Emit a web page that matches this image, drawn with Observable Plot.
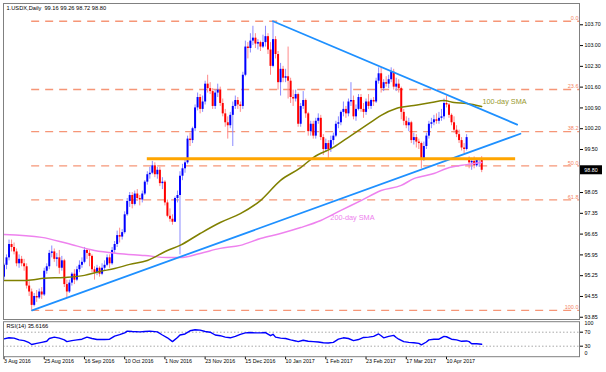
<!DOCTYPE html>
<html><head><meta charset="utf-8">
<script src="https://cdn.jsdelivr.net/npm/d3@7"></script>
<script src="https://cdn.jsdelivr.net/npm/@observablehq/plot@0.6"></script>
<style>
html,body{margin:0;padding:0;background:#fff;}
#wrap{position:relative;width:606px;height:372px;overflow:hidden;font-family:"Liberation Sans",Arial,sans-serif;}
#main{position:absolute;left:0;top:0;}
#rsi{position:absolute;left:0;top:318px;}
</style></head><body><div id="wrap"><div id="main"></div><div id="rsi"></div></div>
<script>
const symbol = "1.USDX,Daily";
const opens = [95.20,95.60,95.85,96.30,96.20,96.05,95.65,95.80,95.65,95.55,
94.90,94.70,94.25,94.55,94.50,94.70,94.60,95.40,95.55,96.00,
96.05,95.80,95.85,95.50,95.75,94.95,94.70,95.00,95.30,95.10,
95.45,95.60,95.70,96.10,96.00,95.90,95.45,95.35,95.50,95.30,
95.50,95.60,95.85,95.65,96.10,96.30,96.60,96.55,96.70,97.30,
97.75,97.95,97.65,98.00,97.85,97.80,98.00,98.40,98.65,98.70,
98.95,98.65,98.80,98.35,98.40,97.70,97.25,97.15,97.05,97.85,
97.95,98.60,98.85,99.05,99.85,99.80,100.20,100.90,101.25,100.85,
101.10,101.70,101.55,101.45,100.95,101.40,101.50,101.05,100.70,100.40,
100.30,100.65,100.95,101.15,101.00,100.95,102.00,102.95,102.90,103.15,
103.25,103.05,103.10,102.95,103.10,103.30,102.85,102.30,103.20,102.70,
101.75,102.20,101.90,101.95,101.80,101.25,101.20,101.35,100.35,100.95,
101.15,100.70,100.10,100.35,99.95,100.45,100.55,99.90,99.50,99.70,
99.50,99.80,99.95,100.35,100.40,100.75,100.85,100.70,101.10,101.15,
100.60,100.85,101.25,100.85,100.75,101.10,100.95,101.15,101.10,101.80,
102.05,101.55,101.75,101.70,101.85,102.10,101.60,101.70,101.55,100.75,
100.45,100.30,100.40,99.80,99.90,99.75,99.70,99.20,99.60,99.95,
100.35,100.40,100.50,100.45,100.55,100.60,101.05,101.00,100.65,100.40,
100.15,100.00,99.80,99.55,99.50,99.20,99.05,99.10,98.95,99.15,99.16];
const highs = [95.65,95.95,96.45,96.45,96.35,96.15,95.95,95.90,95.80,95.65,
95.05,94.80,94.65,94.75,94.80,94.85,95.50,95.65,96.10,96.25,
96.15,96.00,96.10,95.90,95.80,95.10,95.10,95.35,95.45,95.55,
95.75,95.85,96.20,96.15,96.10,95.95,95.55,95.60,95.55,95.65,
95.75,95.95,95.95,96.20,96.40,96.75,96.85,96.80,97.40,97.85,
98.05,98.05,98.10,98.15,97.95,98.10,98.45,98.75,98.90,99.10,
99.05,98.90,98.90,98.55,98.45,97.80,97.50,97.30,97.90,98.10,
98.75,99.00,99.20,99.95,100.05,100.25,101.00,101.40,101.35,101.30,
101.80,102.00,101.75,101.55,101.50,101.70,101.60,101.20,100.85,100.60,
100.75,101.10,101.30,101.25,101.10,102.10,103.15,103.10,103.40,103.65,
103.40,103.20,103.15,103.35,103.65,103.40,103.10,103.82,103.30,102.80,
102.40,102.30,102.20,102.95,101.90,101.50,101.50,101.40,101.05,101.45,
101.20,100.75,100.45,100.45,100.55,100.70,100.65,100.00,99.85,99.80,
99.95,100.05,100.45,100.60,100.80,101.10,100.95,101.20,101.75,101.30,
101.00,101.35,101.35,101.05,101.20,101.35,101.20,101.25,101.90,102.25,
102.25,101.85,101.95,102.00,102.25,102.20,101.90,101.85,101.60,100.85,
100.60,100.55,100.45,100.05,100.00,99.85,99.75,99.75,100.05,100.45,
100.55,100.65,100.70,100.75,100.85,101.20,101.30,101.05,100.70,100.60,
100.30,100.15,99.90,99.70,100.00,99.25,99.20,99.25,99.20,99.20,99.26];
const lows = [95.10,95.45,95.75,96.05,95.95,95.55,95.50,95.55,95.40,94.80,
94.55,94.08,94.20,94.35,94.45,94.45,94.55,95.30,95.45,95.85,
95.70,95.55,95.30,95.40,94.85,94.50,94.65,94.90,94.95,95.05,
95.35,95.50,95.65,95.80,95.55,95.35,95.10,95.25,95.20,95.25,
95.40,95.55,95.50,95.60,96.00,96.20,96.35,96.45,96.65,97.25,
97.55,97.50,97.60,97.75,97.60,97.70,97.95,98.30,98.50,98.65,
98.55,98.50,98.25,98.15,97.60,97.20,97.05,96.95,97.05,97.70,
95.95,98.45,98.70,99.00,99.60,99.70,100.10,100.80,100.70,100.75,
101.00,101.40,101.35,100.85,100.85,101.25,100.95,100.60,100.25,99.85,
100.20,99.60,100.85,100.85,100.75,100.85,101.95,102.55,102.75,103.00,
102.90,102.85,102.80,102.90,102.95,102.70,102.00,102.25,102.55,101.50,
101.30,101.75,101.75,101.20,101.05,100.95,101.10,100.25,100.25,100.85,
100.55,99.95,99.95,99.85,99.85,100.35,99.80,99.30,99.40,99.20,
99.40,99.65,99.90,100.20,100.30,100.60,100.55,100.60,100.95,100.50,
100.45,100.80,100.75,100.55,100.65,100.85,100.85,100.95,101.05,101.70,
101.40,101.45,101.60,101.55,101.75,101.50,101.45,101.40,100.50,100.30,
100.20,100.10,99.70,99.65,99.55,99.50,98.85,99.10,99.50,99.85,
100.20,100.30,100.35,100.35,100.45,100.50,100.90,100.55,100.30,100.05,
99.90,99.70,99.45,99.35,99.45,98.85,98.80,98.85,98.90,98.90,98.72];
const closes = [95.60,95.85,96.30,96.20,96.05,95.65,95.80,95.65,95.55,94.90,
94.70,94.25,94.55,94.50,94.70,94.60,95.40,95.55,96.00,96.05,
95.80,95.85,95.50,95.75,94.95,94.70,95.00,95.30,95.10,95.45,
95.60,95.70,96.10,96.00,95.90,95.45,95.35,95.50,95.30,95.50,
95.60,95.85,95.65,96.10,96.30,96.60,96.55,96.70,97.30,97.75,
97.95,97.65,98.00,97.85,97.80,98.00,98.40,98.65,98.70,98.95,
98.65,98.80,98.35,98.40,97.70,97.25,97.15,97.05,97.85,97.95,
98.60,98.85,99.05,99.85,99.80,100.20,100.90,101.25,100.85,101.10,
101.70,101.55,101.45,100.95,101.40,101.50,101.05,100.70,100.40,100.30,
100.65,100.95,101.15,101.00,100.95,102.00,102.95,102.90,103.15,103.25,
103.05,103.10,102.95,103.10,103.30,102.85,102.30,103.20,102.70,101.75,
102.20,101.90,101.95,101.80,101.25,101.20,101.35,100.35,100.95,101.15,
100.70,100.10,100.35,99.95,100.45,100.55,99.90,99.50,99.70,99.50,
99.80,99.95,100.35,100.40,100.75,100.85,100.70,101.10,101.15,100.60,
100.85,101.25,100.85,100.75,101.10,100.95,101.15,101.10,101.80,102.05,
101.55,101.75,101.70,101.85,102.10,101.60,101.70,101.55,100.75,100.45,
100.30,100.40,99.80,99.90,99.75,99.70,99.20,99.60,99.95,100.35,
100.40,100.50,100.45,100.55,100.60,101.05,101.00,100.65,100.40,100.15,
100.00,99.80,99.55,99.50,99.90,99.05,99.10,98.95,99.15,99.15,98.80];

const dateIdx = [0,16,32,48,64,80,96,112,128,144,160,176];
const dateLabels = ["3 Aug 2016","25 Aug 2016","16 Sep 2016","10 Oct 2016","1 Nov 2016","23 Nov 2016","15 Dec 2016","10 Jan 2017","1 Feb 2017","23 Feb 2017","17 Mar 2017","10 Apr 2017"];
const yTicks = [103.70,103.00,102.30,101.60,100.90,100.20,99.50,98.05,97.35,96.65,95.95,95.25,94.55,93.85];

const fibLabels = ["0.0","23.6","38.2","50.0","61.8","100.0"];
const fibPrices = [103.82,101.52,100.10,98.95,97.80,94.08];
const fibStartIdx = 11;

const sma100Idx = [0,9,16,24,32,38,44,50,57,65,70,78,86,94,102,110,118,123,131,138,147,150,156,163,170,175,179,184,190];
const sma100Val = [95.09,95.09,95.16,95.19,95.26,95.39,95.49,95.63,95.76,96.10,96.27,96.67,97.04,97.34,97.78,98.46,98.89,99.23,99.57,99.97,100.48,100.65,100.88,100.98,101.08,101.15,101.08,101.05,100.95];
const sma200Idx = [0,15,25,36,45,56,65,70,78,86,94,102,110,118,126,134,142,150,158,163,171,176,184,190];
const sma200Val = [96.64,96.54,96.34,96.10,96.00,95.93,95.86,95.86,96.00,96.17,96.27,96.50,96.67,96.87,97.11,97.45,97.78,98.12,98.29,98.52,98.69,98.86,98.99,99.06];

const trendUpperIdx = [107,204.1], trendUpperVal = [103.82,100.34];
const trendLowerIdx = [11.2,205.4], trendLowerVal = [94.08,100.03];
const supportLevel = 99.19, supportIdx = [57,203.5];

const rsiIdx = [0,2,4,6,8,10,11,13,15,17,18,20,22,24,25,27,29,31,33,35,37,40,42,44,46,48,49,51,54,56,58,61,63,65,67,69,70,72,74,76,78,80,82,84,86,88,90,92,94,96,98,100,102,104,106,107,108,110,112,114,116,117,119,121,123,125,127,129,131,133,135,137,139,141,143,145,147,149,150,151,153,155,156,157,159,161,163,165,166,168,169,171,173,175,176,178,180,182,184,185,186,188,190];
const rsiVal = [51,54,53,48,46,40,35,38,41,44,52,56,53,48,43,46,48,50,56,52,49,49,50,59,63,68,73,72,71,72,73,71,62,54,43,55,62,65,74,77,76,72,70,62,60,56,54,58,64,68,69,68,68,69,60,64,56,53,52,48,45,43,47,44,43,42,40,39,41,50,54,52,46,49,55,56,58,65,60,54,58,61,55,50,43,41,40,38,34,42,48,50,50,58,57,50,48,44,45,43,37,37,35.6];
const rsiLast = "35.6166";
const rsiLevels = [70,30];

// ---- build ----
const W = 606;
const xDomain = [-0.2, 228.9];
const yDomain = [93.774, 104.417];
const font = "Liberation Sans, Arial, sans-serif";
const n = closes.length;
const bars = closes.map((c,i)=>({i, o:opens[i], h:highs[i], l:lows[i], c}));
const up = bars.filter(d=>d.c>=d.o), dn = bars.filter(d=>d.c<d.o);
const fibs = fibLabels.map((t,k)=>({label:t, price:fibPrices[k], x1:fibStartIdx, x2:xDomain[1]}));
const sma100 = sma100Idx.map((i,k)=>({i, v:sma100Val[k]}));
const sma200 = sma200Idx.map((i,k)=>({i, v:sma200Val[k]}));
const trend = [
  ...trendUpperIdx.map((i,k)=>({id:"u", i, v:trendUpperVal[k]})),
  ...trendLowerIdx.map((i,k)=>({id:"l", i, v:trendLowerVal[k]}))
];
const support = [{y:supportLevel, x1:supportIdx[0], x2:supportIdx[1]}];
const f2 = d3.format(".2f");
const header = `${symbol}  ${f2(opens[n-1])} ${f2(highs[n-1])} ${f2(lows[n-1])} ${f2(closes[n-1])}`;
const rsi = rsiIdx.map((i,k)=>({i, v:rsiVal[k]}));

const main = Plot.plot({
  width: W, height: 320,
  marginTop: 3, marginBottom: 1, marginLeft: 3, marginRight: 27,
  x: {domain: xDomain, axis: null},
  y: {domain: yDomain},
  style: {background: "transparent", overflow: "visible", fontFamily: font},
  marks: [
    Plot.ruleY(fibs, {y:"price", x1:"x1", x2:"x2", stroke:"#f4845f", strokeOpacity:0.85, strokeWidth:1.3, strokeDasharray:"8,6"}),
    Plot.text(fibs, {y:"price", text:"label", frameAnchor:"right", textAnchor:"end", dx:-1, dy:-3, fill:"#f4845f", fontSize:5.5}),
    Plot.ruleX(up, {x:"i", y1:"l", y2:"h", stroke:"#8a8aff", strokeWidth:1}),
    Plot.ruleX(dn, {x:"i", y1:"l", y2:"h", stroke:"#ff8a8a", strokeWidth:1}),
    Plot.ruleX(up, {x:"i", y1:"o", y2:"c", stroke:"#0000ff", strokeWidth:2}),
    Plot.ruleX(dn, {x:"i", y1:"o", y2:"c", stroke:"#ff0000", strokeWidth:2}),
    Plot.line(sma200, {x:"i", y:"v", stroke:"#ee82ee", strokeWidth:1.5, curve:"monotone-x"}),
    Plot.line(sma100, {x:"i", y:"v", stroke:"#808000", strokeWidth:1.5, curve:"monotone-x"}),
    Plot.line(trend, {x:"i", y:"v", z:"id", stroke:"#1e90ff", strokeWidth:1.8}),
    Plot.ruleY(support, {y:"y", x1:"x1", x2:"x2", stroke:"#ffa500", strokeWidth:3}),
    Plot.text([{i:190.3, v:101.10, t:"100-day SMA"}], {x:"i", y:"v", text:"t", textAnchor:"start", fill:"#9a9a30", fontSize:7.3}),
    Plot.text([{i:138.6, v:97.19, t:"200-day SMA"}], {x:"i", y:"v", text:"t", textAnchor:"middle", fill:"#ee82ee", fontSize:7.3}),
    Plot.text([header], {text:d=>d, frameAnchor:"top-left", lineAnchor:"top", dx:3, dy:2, fill:"#000", fontSize:5.7}),
    Plot.axisY({anchor:"right", ticks:yTicks, tickSize:3, tickPadding:2, tickFormat:f2, fontSize:5.3, label:null}),
    Plot.frame({stroke:"#808080"})
  ]
});
document.getElementById("main").appendChild(main);
{
  const yy = main.scale("y").apply(closes[n-1]);
  const xr = main.scale("x").range[1];
  const s = d3.select(main);
  s.append("rect").attr("x", xr+1).attr("y", yy-4.5).attr("width", 22).attr("height", 9).attr("fill", "#000");
  s.append("text").attr("x", xr+12).attr("y", yy).attr("dy","0.35em").attr("text-anchor","middle")
    .style("fill","#ffffff").style("font-size","5.3px").style("font-family", font).text(f2(closes[n-1]));
}

const rsiChart = Plot.plot({
  width: W, height: 54,
  marginTop: 3.2, marginBottom: 15.8, marginLeft: 3, marginRight: 27,
  x: {domain: xDomain},
  y: {domain: [0,100]},
  style: {background: "transparent", overflow: "visible", fontFamily: font},
  marks: [
    Plot.ruleY(rsiLevels, {stroke:"#a8a8a8", strokeDasharray:"1.5,2", strokeWidth:1}),
    Plot.line(rsi, {x:"i", y:"v", stroke:"#0000ff", strokeWidth:1.4}),
    Plot.text([`RSI(14) ${rsiLast}`], {text:d=>d, frameAnchor:"top-left", lineAnchor:"top", dx:3, dy:2, fill:"#000", fontSize:5.7}),
    Plot.axisY({anchor:"right", ticks:rsiLevels, tickSize:3, tickPadding:2, fontSize:5.3, label:null}),
    Plot.text(["100"], {text:d=>d, frameAnchor:"top-right", textAnchor:"start", lineAnchor:"top", dx:5, dy:0, fill:"#000", fontSize:5.3}),
    Plot.text(["0"], {text:d=>d, frameAnchor:"bottom-right", textAnchor:"start", lineAnchor:"bottom", dx:5, dy:-2, fill:"#000", fontSize:5.3}),
    Plot.axisX({anchor:"bottom", ticks:dateIdx, tickFormat:d=>dateLabels[dateIdx.indexOf(d)], tickSize:3, tickPadding:0, textAnchor:"start", fontSize:5.3, label:null}),
    Plot.frame({stroke:"#808080"})
  ]
});
document.getElementById("rsi").appendChild(rsiChart);
</script>
</body></html>
